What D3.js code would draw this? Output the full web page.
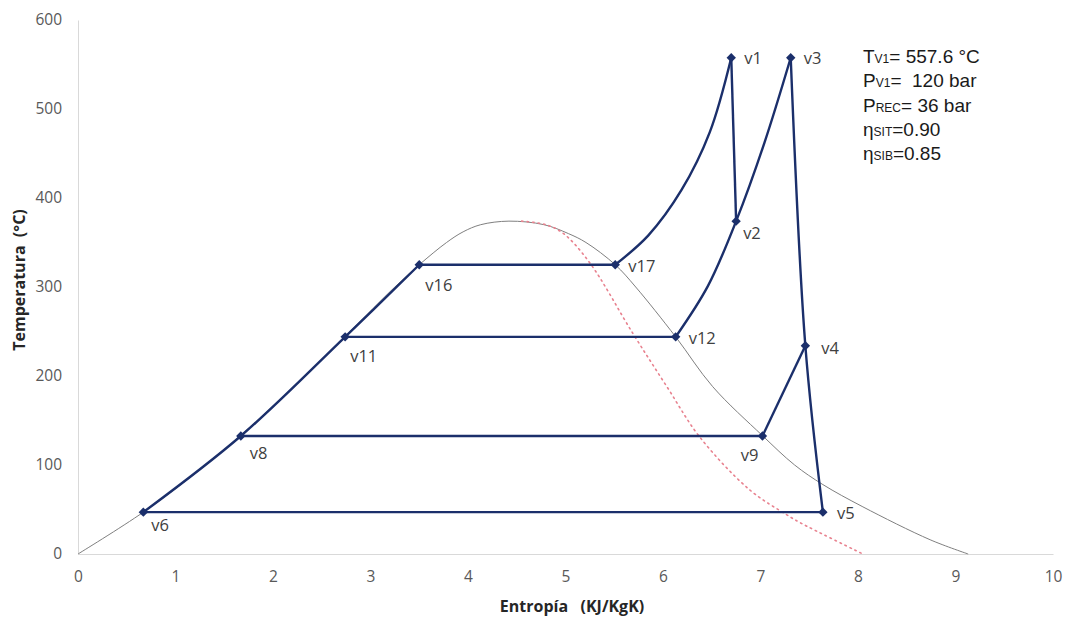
<!DOCTYPE html>
<html>
<head>
<meta charset="utf-8">
<script src="https://cdn.jsdelivr.net/npm/d3@7"></script>
<style>
  html, body { margin: 0; padding: 0; background: #fff; }
  svg { display: block; }
</style>
</head>
<body>
<svg id="chart" width="1071" height="617"></svg>
<script>
// ---------------- DATA ----------------
const xTicks = [0, 1, 2, 3, 4, 5, 6, 7, 8, 9, 10];
const yTicks = [0, 100, 200, 300, 400, 500, 600];

// labelled cycle states: [name, entropy s (kJ/kgK), temperature T (°C)]
const states = [
  ["v1", 6.70, 557.6],
  ["v2", 6.75, 374],
  ["v3", 7.31, 557.6],
  ["v4", 7.46, 234],
  ["v5", 7.64, 47],
  ["v6", 0.67, 47],
  ["v8", 1.67, 132.6],
  ["v9", 7.02, 132.6],
  ["v11", 2.74, 244],
  ["v12", 6.13, 244],
  ["v16", 3.50, 325],
  ["v17", 5.51, 325]
];

// cycle paths (state names or intermediate [s, T] points)
const pathLiquid   = ["v6", "v8", "v11", "v16"];
const pathBoil     = ["v16", "v17"];
const pathSuperht  = ["v17", [5.85, 358], [6.19, 409], [6.48, 474], "v1"];
const pathHPTurb   = ["v1", "v2"];
const pathReheat   = ["v12", [6.46, 301], "v2", [7.04, 462], "v3"];
const pathLPTurb   = ["v3", "v4", "v5"];
const pathExtr     = ["v4", "v9"];
const pathCond     = ["v5", "v6"];
const pathHeater1  = ["v9", "v8"];
const pathHeater2  = ["v12", "v11"];

// saturation dome [s, T]
const domeS = [0, 0.67, 1.31, 1.84, 2.33, 2.79, 3.25, 3.50, 3.78, 3.95, 4.13, 4.42, 4.78, 5.03, 5.21, 5.51, 5.72, 6.13, 6.51, 7.02, 7.35, 7.64, 8.05, 8.74, 9.13];
const domeT = [0, 47, 100, 150, 200, 250, 300, 325, 350, 362, 370, 374, 370, 360, 350, 325, 300, 244, 188, 133, 100, 78, 53, 16, 0];

// isentropic-expansion reference curve (dotted) [s, T]
const dotS = [4.55, 4.80, 4.98, 5.25, 5.69, 6.04, 6.38, 6.89, 7.27, 7.41, 8.05];
const dotT = [374, 370, 360, 327, 248, 188, 131, 72, 44, 35, 0];

const annotation = [
  ["T", "V1", "= 557.6 °C"],
  ["P", "V1", "=  120 bar"],
  ["P", "REC", "= 36 bar"],
  ["η", "SIT", "=0.90"],
  ["η", "SIB", "=0.85"]
];

const xTitle = "Entropía   (KJ/KgK)";
const yTitle = "Temperatura  (°C)";

// ---------------- DRAW ----------------
const svg = d3.select("#chart");
const x = d3.scaleLinear().domain([0, 10]).range([78, 1053]);
const y = d3.scaleLinear().domain([0, 600]).range([554, 20]);

const stateMap = new Map(states.map(d => [d[0], d]));
const resolve = p => p.map(e => typeof e === "string" ? [stateMap.get(e)[1], stateMap.get(e)[2]] : e);

// axes
const xAxis = svg.append("g").attr("transform", "translate(0,554)")
  .call(d3.axisBottom(x).tickValues(xTicks).tickSize(0).tickPadding(17));
const yAxis = svg.append("g").attr("transform", "translate(78,0)")
  .call(d3.axisLeft(y).tickValues(yTicks).tickSize(0).tickPadding(16));
[xAxis, yAxis].forEach(a => {
  a.select(".domain").attr("stroke", "#d9d9d9").attr("stroke-width", 1);
  a.selectAll("text").attr("fill", "#595959").attr("font-family", "'Open Sans', sans-serif").attr("font-size", 15.5);
});

// titles
svg.append("text").attr("x", 572).attr("y", 612).attr("text-anchor", "middle")
  .attr("font-family", "'Open Sans', sans-serif").attr("font-weight", "bold").attr("font-size", 16)
  .attr("fill", "#262626").attr("xml:space", "preserve").text(xTitle);
svg.append("text").attr("transform", "translate(25,280) rotate(-90)").attr("text-anchor", "middle")
  .attr("font-family", "'Open Sans', sans-serif").attr("font-weight", "bold").attr("font-size", 16)
  .attr("fill", "#262626").attr("xml:space", "preserve").text(yTitle);

const smooth = d3.line().x(d => x(d[0])).y(d => y(d[1])).curve(d3.curveCatmullRom.alpha(0.5));

// dome
svg.append("path").datum(domeS.map((s, i) => [s, domeT[i]]))
  .attr("d", smooth).attr("fill", "none").attr("stroke", "#7f7f7f").attr("stroke-width", 1);

// dotted curve
svg.append("path").datum(dotS.map((s, i) => [s, dotT[i]]))
  .attr("d", smooth).attr("fill", "none").attr("stroke", "#e8828f")
  .attr("stroke-width", 1.6).attr("stroke-dasharray", "1.5,4").attr("stroke-linecap", "round");

// cycle
const cycleColor = "#1b2f6b";
const paths = [pathLiquid, pathBoil, pathSuperht, pathHPTurb, pathReheat, pathLPTurb,
               pathExtr, pathCond, pathHeater1, pathHeater2];
svg.append("g").selectAll("path").data(paths.map(resolve)).join("path")
  .attr("d", smooth).attr("fill", "none").attr("stroke", cycleColor)
  .attr("stroke-width", 2.4).attr("stroke-linejoin", "round");

// markers
svg.append("g").selectAll("path").data(states).join("path")
  .attr("transform", d => `translate(${x(d[1])},${y(d[2])})`)
  .attr("d", d3.symbol(d3.symbolDiamond2, 56)).attr("fill", cycleColor);

// labels
const labelOff = {
  v1: [13, 6, "start"], v3: [13, 6, "start"], v2: [7, 18, "start"], v17: [13, 7, "start"],
  v16: [6, 26, "start"], v11: [5, 25, "start"], v12: [13, 7, "start"], v4: [16, 8, "start"],
  v9: [-4, 25, "end"], v8: [9, 23, "start"], v5: [14, 7, "start"], v6: [8, 19, "start"]
};
svg.append("g").selectAll("text").data(states).join("text")
  .attr("x", d => x(d[1]) + labelOff[d[0]][0])
  .attr("y", d => y(d[2]) + labelOff[d[0]][1])
  .attr("text-anchor", d => labelOff[d[0]][2])
  .attr("font-family", "'Open Sans', sans-serif").attr("font-size", 16.5).attr("fill", "#404040")
  .text(d => d[0]);

// annotation
const ann = svg.append("g").attr("font-family", "'Liberation Sans', Arial, sans-serif").attr("fill", "#1a1a1a");
annotation.forEach((a, i) => {
  const t = ann.append("text").attr("x", 863).attr("y", 63 + i * 24.3).attr("font-size", 19).attr("xml:space", "preserve");
  t.append("tspan").text(a[0]);
  t.append("tspan").attr("font-size", 12).text(a[1]);
  t.append("tspan").text(a[2]);
});
</script>
</body>
</html>
